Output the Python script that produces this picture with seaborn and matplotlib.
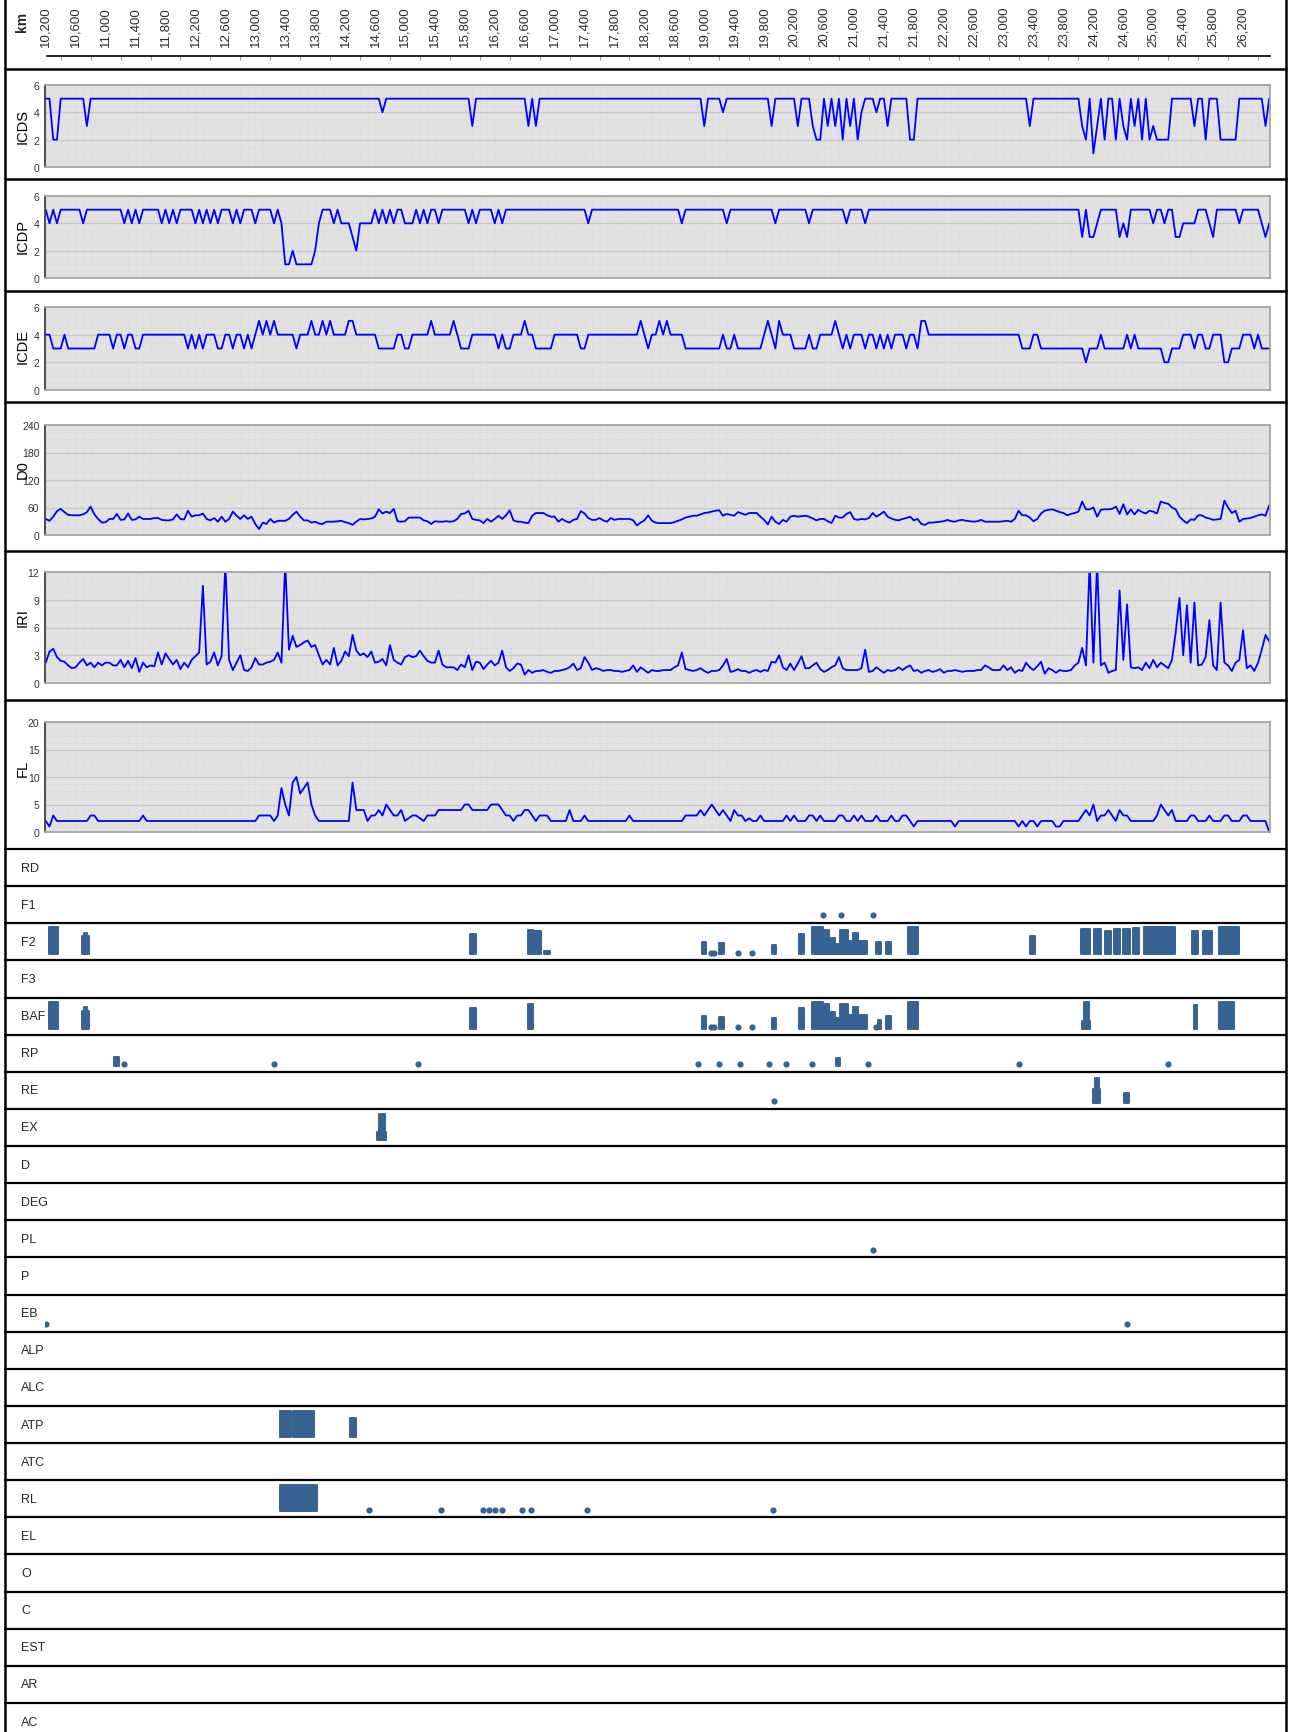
import numpy as np
import pandas as pd
import matplotlib.pyplot as plt
import seaborn as sns
from matplotlib.lines import Line2D
from matplotlib.ticker import MultipleLocator

sns.set_style("white")
plt.rcParams["font.family"] = ["Liberation Sans", "DejaVu Sans"]

# chainage sampling of the survey (every 50 m from km 10,200)
KM_START, KM_STEP = 10200, 50

ICDS = [
    5, 5, 2, 2, 5, 5, 5, 5, 5, 5, 5, 3, 5, 5, 5, 5, 5, 5, 5, 5,
    5, 5, 5, 5, 5, 5, 5, 5, 5, 5, 5, 5, 5, 5, 5, 5, 5, 5, 5, 5,
    5, 5, 5, 5, 5, 5, 5, 5, 5, 5, 5, 5, 5, 5, 5, 5, 5, 5, 5, 5,
    5, 5, 5, 5, 5, 5, 5, 5, 5, 5, 5, 5, 5, 5, 5, 5, 5, 5, 5, 5,
    5, 5, 5, 5, 5, 5, 5, 5, 5, 5, 4, 5, 5, 5, 5, 5, 5, 5, 5, 5,
    5, 5, 5, 5, 5, 5, 5, 5, 5, 5, 5, 5, 5, 5, 3, 5, 5, 5, 5, 5,
    5, 5, 5, 5, 5, 5, 5, 5, 5, 3, 5, 3, 5, 5, 5, 5, 5, 5, 5, 5,
    5, 5, 5, 5, 5, 5, 5, 5, 5, 5, 5, 5, 5, 5, 5, 5, 5, 5, 5, 5,
    5, 5, 5, 5, 5, 5, 5, 5, 5, 5, 5, 5, 5, 5, 5, 5, 3, 5, 5, 5,
    5, 4, 5, 5, 5, 5, 5, 5, 5, 5, 5, 5, 5, 5, 3, 5, 5, 5, 5, 5,
    5, 3, 5, 5, 5, 3, 2, 2, 5, 3, 5, 3, 5, 2, 5, 3, 5, 2, 4, 5,
    5, 5, 4, 5, 5, 3, 5, 5, 5, 5, 5, 2, 2, 5, 5, 5, 5, 5, 5, 5,
    5, 5, 5, 5, 5, 5, 5, 5, 5, 5, 5, 5, 5, 5, 5, 5, 5, 5, 5, 5,
    5, 5, 5, 3, 5, 5, 5, 5, 5, 5, 5, 5, 5, 5, 5, 5, 5, 3, 2, 5,
    1, 3, 5, 2, 5, 5, 2, 5, 3, 2, 5, 3, 5, 2, 5, 2, 3, 2, 2, 2,
    2, 5, 5, 5, 5, 5, 5, 3, 5, 5, 2, 5, 5, 5, 2, 2, 2, 2, 2, 5,
    5, 5, 5, 5, 5, 5, 3, 5,
]

ICDP = [
    5, 4, 5, 4, 5, 5, 5, 5, 5, 5, 4, 5, 5, 5, 5, 5, 5, 5, 5, 5,
    5, 4, 5, 4, 5, 4, 5, 5, 5, 5, 5, 4, 5, 4, 5, 4, 5, 5, 5, 5,
    4, 5, 4, 5, 4, 5, 4, 5, 5, 5, 4, 5, 4, 5, 5, 5, 4, 5, 5, 5,
    5, 4, 5, 4, 1, 1, 2, 1, 1, 1, 1, 1, 2, 4, 5, 5, 5, 4, 5, 4,
    4, 4, 3, 2, 4, 4, 4, 4, 5, 4, 5, 4, 5, 4, 5, 5, 4, 4, 4, 5,
    4, 5, 4, 5, 5, 4, 5, 5, 5, 5, 5, 5, 5, 4, 5, 4, 5, 5, 5, 5,
    4, 5, 4, 5, 5, 5, 5, 5, 5, 5, 5, 5, 5, 5, 5, 5, 5, 5, 5, 5,
    5, 5, 5, 5, 5, 4, 5, 5, 5, 5, 5, 5, 5, 5, 5, 5, 5, 5, 5, 5,
    5, 5, 5, 5, 5, 5, 5, 5, 5, 5, 4, 5, 5, 5, 5, 5, 5, 5, 5, 5,
    5, 5, 4, 5, 5, 5, 5, 5, 5, 5, 5, 5, 5, 5, 5, 4, 5, 5, 5, 5,
    5, 5, 5, 5, 4, 5, 5, 5, 5, 5, 5, 5, 5, 5, 4, 5, 5, 5, 5, 4,
    5, 5, 5, 5, 5, 5, 5, 5, 5, 5, 5, 5, 5, 5, 5, 5, 5, 5, 5, 5,
    5, 5, 5, 5, 5, 5, 5, 5, 5, 5, 5, 5, 5, 5, 5, 5, 5, 5, 5, 5,
    5, 5, 5, 5, 5, 5, 5, 5, 5, 5, 5, 5, 5, 5, 5, 5, 5, 3, 5, 3,
    3, 4, 5, 5, 5, 5, 5, 3, 4, 3, 5, 5, 5, 5, 5, 5, 4, 5, 5, 4,
    5, 5, 3, 3, 4, 4, 4, 4, 5, 5, 5, 4, 3, 5, 5, 5, 5, 5, 5, 4,
    5, 5, 5, 5, 5, 4, 3, 4,
]

ICDE = [
    4, 4, 3, 3, 3, 4, 3, 3, 3, 3, 3, 3, 3, 3, 4, 4, 4, 4, 3, 4,
    4, 3, 4, 4, 3, 3, 4, 4, 4, 4, 4, 4, 4, 4, 4, 4, 4, 4, 3, 4,
    3, 4, 3, 4, 4, 4, 3, 3, 4, 4, 3, 4, 4, 3, 4, 3, 4, 5, 4, 5,
    4, 5, 4, 4, 4, 4, 4, 3, 4, 4, 4, 5, 4, 4, 5, 4, 5, 4, 4, 4,
    4, 5, 5, 4, 4, 4, 4, 4, 4, 3, 3, 3, 3, 3, 4, 4, 3, 3, 4, 4,
    4, 4, 4, 5, 4, 4, 4, 4, 4, 5, 4, 3, 3, 3, 4, 4, 4, 4, 4, 4,
    4, 3, 4, 3, 3, 4, 4, 4, 5, 4, 4, 3, 3, 3, 3, 3, 4, 4, 4, 4,
    4, 4, 4, 3, 3, 4, 4, 4, 4, 4, 4, 4, 4, 4, 4, 4, 4, 4, 4, 5,
    4, 3, 4, 4, 5, 4, 5, 4, 4, 4, 4, 3, 3, 3, 3, 3, 3, 3, 3, 3,
    3, 4, 3, 3, 4, 3, 3, 3, 3, 3, 3, 3, 4, 5, 4, 3, 5, 4, 4, 4,
    3, 3, 3, 3, 4, 3, 3, 4, 4, 4, 4, 5, 4, 3, 4, 3, 4, 4, 4, 3,
    4, 4, 3, 4, 3, 4, 3, 4, 4, 4, 3, 4, 4, 3, 5, 5, 4, 4, 4, 4,
    4, 4, 4, 4, 4, 4, 4, 4, 4, 4, 4, 4, 4, 4, 4, 4, 4, 4, 4, 4,
    4, 3, 3, 3, 4, 4, 3, 3, 3, 3, 3, 3, 3, 3, 3, 3, 3, 3, 2, 3,
    3, 3, 4, 3, 3, 3, 3, 3, 3, 4, 3, 4, 3, 3, 3, 3, 3, 3, 3, 2,
    2, 3, 3, 3, 4, 4, 4, 3, 4, 4, 3, 3, 4, 4, 4, 2, 2, 3, 3, 3,
    4, 4, 4, 3, 4, 3, 3, 3,
]

D0 = [
    35, 31, 40, 52, 57, 50, 44, 43, 43, 43, 45, 50, 62, 45, 35, 27, 28, 35, 35, 46,
    33, 34, 47, 33, 34, 40, 35, 35, 35, 37, 37, 33, 32, 32, 34, 45, 35, 34, 53, 40,
    43, 43, 47, 35, 32, 37, 29, 40, 29, 35, 51, 42, 35, 43, 35, 40, 24, 13, 27, 24,
    35, 27, 31, 31, 31, 35, 44, 51, 40, 32, 32, 27, 29, 25, 24, 29, 29, 29, 30, 31,
    28, 26, 22, 29, 35, 34, 35, 36, 40, 56, 47, 51, 48, 57, 30, 29, 30, 38, 38, 38,
    38, 32, 30, 24, 30, 29, 29, 30, 29, 30, 35, 46, 47, 53, 35, 33, 32, 26, 35, 29,
    35, 42, 35, 43, 54, 32, 29, 29, 27, 26, 42, 48, 48, 48, 43, 40, 40, 29, 35, 30,
    27, 33, 35, 52, 47, 37, 33, 33, 37, 32, 29, 37, 33, 35, 35, 35, 35, 32, 21, 27,
    32, 43, 31, 27, 26, 26, 26, 26, 28, 31, 34, 38, 40, 42, 42, 45, 48, 49, 51, 53,
    54, 42, 46, 44, 42, 50, 47, 44, 48, 48, 48, 40, 33, 23, 40, 29, 24, 33, 29, 40,
    42, 40, 41, 42, 40, 36, 32, 35, 35, 30, 26, 42, 38, 38, 46, 50, 35, 33, 35, 34,
    37, 48, 40, 45, 51, 40, 36, 33, 32, 35, 37, 40, 32, 35, 24, 22, 27, 27, 28, 29,
    30, 33, 30, 29, 32, 33, 31, 30, 29, 30, 33, 29, 29, 29, 29, 29, 30, 31, 29, 35,
    53, 43, 43, 38, 30, 35, 47, 53, 55, 56, 53, 50, 48, 43, 46, 48, 51, 73, 56, 56,
    60, 40, 55, 56, 56, 57, 62, 46, 67, 45, 56, 45, 55, 50, 47, 53, 51, 47, 73, 70,
    68, 60, 56, 40, 32, 26, 34, 33, 43, 43, 38, 36, 33, 34, 35, 75, 60, 48, 53, 29,
    35, 36, 37, 40, 43, 45, 42, 65,
]

IRI = [
    2.2, 3.4, 3.7, 2.8, 2.4, 2.3, 1.9, 1.6, 1.7, 2.2, 2.6, 1.9, 2.2, 1.7, 2.2, 1.9, 2.2, 2.2, 1.9, 1.9,
    2.5, 1.7, 2.4, 1.6, 2.7, 1.2, 2.2, 1.7, 1.9, 1.8, 3.3, 2.0, 3.2, 2.6, 2.0, 2.5, 1.5, 2.2, 1.7, 2.5,
    2.9, 3.3, 10.5, 2.0, 2.3, 3.3, 1.9, 2.9, 13.0, 2.5, 1.4, 2.2, 3.0, 1.4, 1.3, 1.7, 2.7, 2.0, 2.0, 2.2,
    2.3, 2.5, 3.3, 2.2, 13.0, 3.6, 5.1, 3.9, 4.1, 4.4, 4.6, 3.9, 4.1, 3.0, 2.0, 2.5, 2.0, 3.8, 1.9, 2.4,
    3.4, 2.9, 5.2, 3.5, 3.0, 3.2, 2.8, 3.4, 2.2, 2.3, 2.6, 1.9, 4.1, 2.5, 2.2, 2.0, 2.8, 3.0, 2.8, 2.9,
    3.5, 2.9, 2.4, 2.2, 2.2, 3.5, 2.0, 1.7, 1.7, 1.7, 1.4, 2.0, 1.7, 3.0, 1.4, 2.3, 2.2, 1.5, 2.0, 2.4,
    1.9, 2.2, 3.5, 1.7, 1.3, 1.6, 2.1, 2.0, 0.9, 1.4, 1.1, 1.3, 1.3, 1.4, 1.2, 1.1, 1.3, 1.3, 1.4, 1.5,
    1.7, 2.1, 1.4, 1.6, 2.8, 2.2, 1.4, 1.6, 1.5, 1.3, 1.4, 1.4, 1.3, 1.3, 1.2, 1.3, 1.4, 1.9, 1.2, 1.7,
    1.4, 1.1, 1.4, 1.3, 1.3, 1.4, 1.4, 1.4, 1.7, 1.9, 3.3, 1.5, 1.4, 1.3, 1.4, 1.6, 1.3, 1.1, 1.3, 1.3,
    1.4, 1.9, 2.6, 1.2, 1.3, 1.5, 1.3, 1.3, 1.1, 1.3, 1.4, 1.2, 1.4, 1.3, 2.3, 2.2, 3.0, 1.7, 1.4, 2.1,
    1.4, 2.1, 2.9, 1.6, 1.6, 1.9, 2.2, 1.5, 1.2, 1.4, 1.7, 1.9, 2.8, 1.6, 1.4, 1.4, 1.4, 1.4, 1.6, 3.6,
    1.2, 1.3, 1.7, 1.4, 1.1, 1.4, 1.3, 1.4, 1.7, 1.4, 1.7, 1.9, 1.3, 1.4, 1.1, 1.3, 1.4, 1.2, 1.3, 1.5,
    1.1, 1.3, 1.3, 1.4, 1.3, 1.2, 1.3, 1.3, 1.3, 1.4, 1.4, 1.9, 1.7, 1.4, 1.4, 1.4, 1.9, 1.4, 1.7, 1.1,
    1.4, 1.3, 2.2, 1.7, 1.4, 1.8, 2.3, 1.0, 1.6, 1.4, 1.1, 1.4, 1.3, 1.3, 1.4, 1.9, 2.2, 3.8, 1.9, 13.0,
    2.2, 13.0, 1.9, 2.2, 1.1, 1.3, 1.4, 10.0, 2.5, 8.5, 1.7, 1.6, 1.7, 1.4, 2.2, 1.6, 2.5, 1.7, 2.2, 1.9,
    1.6, 2.5, 5.5, 9.2, 3.0, 8.4, 2.2, 8.7, 1.9, 2.0, 2.8, 6.8, 1.9, 1.4, 8.7, 2.2, 1.9, 1.3, 2.2, 2.5,
    5.7, 1.6, 1.9, 1.3, 2.2, 3.6, 5.2, 4.5,
]

FL = [
    2, 1, 3, 2, 2, 2, 2, 2, 2, 2, 2, 2, 3, 3, 2, 2, 2, 2, 2, 2,
    2, 2, 2, 2, 2, 2, 3, 2, 2, 2, 2, 2, 2, 2, 2, 2, 2, 2, 2, 2,
    2, 2, 2, 2, 2, 2, 2, 2, 2, 2, 2, 2, 2, 2, 2, 2, 2, 3, 3, 3,
    3, 2, 3, 8, 5, 3, 9, 10, 7, 8, 9, 5, 3, 2, 2, 2, 2, 2, 2, 2,
    2, 2, 9, 4, 4, 4, 2, 3, 3, 4, 3, 5, 4, 3, 3, 4, 2, 2.5, 3, 3,
    2.5, 2, 3, 3, 3, 4, 4, 4, 4, 4, 4, 4, 5, 5, 4, 4, 4, 4, 4, 5,
    5, 5, 4, 3, 3, 2, 3, 3, 4, 4, 3, 2, 3, 3, 3, 2, 2, 2, 2, 2,
    4, 2, 2, 2, 3, 2, 2, 2, 2, 2, 2, 2, 2, 2, 2, 2, 3, 2, 2, 2,
    2, 2, 2, 2, 2, 2, 2, 2, 2, 2, 2, 3, 3, 3, 3, 4, 3, 4, 5, 4,
    3, 4, 3, 2, 4, 3, 3, 2, 2.5, 2, 2, 3, 2, 2, 2, 2, 2, 2, 3, 2,
    3, 2, 2, 2, 3, 3, 2, 3, 2, 2, 2, 2, 3, 3, 2, 2, 3, 2, 3, 2,
    2, 2, 3, 2, 2, 2, 3, 2, 2, 3, 3, 2, 1, 2, 2, 2, 2, 2, 2, 2,
    2, 2, 2, 1, 2, 2, 2, 2, 2, 2, 2, 2, 2, 2, 2, 2, 2, 2, 2, 2,
    1, 2, 1, 2, 2, 1, 2, 2, 2, 2, 1, 1, 2, 2, 2, 2, 2, 3, 4, 3,
    5, 2, 3, 3, 4, 3, 2, 4, 3, 3, 2, 2, 2, 2, 2, 2, 2, 3, 5, 4,
    3, 4, 2, 2, 2, 2, 3, 3, 2, 2, 2, 3, 2, 2, 2, 3, 3, 2, 2, 2,
    3, 3, 2, 2, 2, 2, 2, 0,
]

KM_TICKS = [10200, 10600, 11000, 11400, 11800, 12200, 12600, 13000, 13400, 13800,
            14200, 14600, 15000, 15400, 15800, 16200, 16600, 17000, 17400, 17800,
            18200, 18600, 19000, 19400, 19800, 20200, 20600, 21000, 21400, 21800,
            22200, 22600, 23000, 23400, 23800, 24200, 24600, 25000, 25400, 25800, 26200]
KM_LABELS = ["10,200", "10,600", "11,000", "11,400", "11,800", "12,200", "12,600",
             "13,000", "13,400", "13,800", "14,200", "14,600", "15,000", "15,400",
             "15,800", "16,200", "16,600", "17,000", "17,400", "17,800", "18,200",
             "18,600", "19,000", "19,400", "19,800", "20,200", "20,600", "21,000",
             "21,400", "21,800", "22,200", "22,600", "23,000", "23,400", "23,800",
             "24,200", "24,600", "25,000", "25,400", "25,800", "26,200"]

# distress rows: (from km, to km, severity) and single spots (km)
F1_DOTS = [20586, 20827, 21255]
F2_BARS = [(10240, 10370, 3.0), (10690, 10775, 2.0), (10715, 10755, 2.4),
           (15870, 15950, 2.3), (16645, 16710, 2.7), (16725, 16815, 2.6),
           (16860, 16940, 0.4), (18970, 19020, 1.4), (19197, 19270, 1.3),
           (19905, 19958, 1.0), (20266, 20333, 2.3), (20433, 20582, 3.0),
           (20582, 20665, 2.7), (20665, 20748, 1.8), (20748, 20820, 1.2),
           (20820, 20915, 2.7), (20915, 20987, 1.5), (20987, 21054, 2.4),
           (21054, 21181, 1.5), (21295, 21362, 1.4), (21428, 21495, 1.4),
           (21722, 21856, 3.0), (23352, 23419, 2.0), (24034, 24154, 2.8),
           (24207, 24301, 2.8), (24355, 24435, 2.6), (24475, 24555, 2.8),
           (24596, 24689, 2.8), (24729, 24809, 2.9), (24876, 25290, 3.0),
           (25517, 25597, 2.6), (25664, 25784, 2.6), (25878, 26145, 3.0)]
F2_DOTS = [19090, 19130, 19450, 19637]
BAF_BARS = [(10240, 10370, 3.0), (10690, 10775, 2.0), (10715, 10755, 2.4),
            (15870, 15950, 2.3), (16645, 16710, 2.7), (18970, 19020, 1.4),
            (19197, 19270, 1.3), (19905, 19958, 1.2), (20266, 20333, 2.3),
            (20433, 20582, 3.0), (20582, 20665, 2.7), (20665, 20748, 1.8),
            (20748, 20820, 1.2), (20820, 20915, 2.7), (20915, 20987, 1.5),
            (20987, 21054, 2.4), (21054, 21181, 1.5), (21320, 21362, 1.0),
            (21428, 21495, 1.4), (21722, 21856, 3.0), (24050, 24160, 0.9),
            (24080, 24140, 3.0), (25540, 25590, 2.6), (25880, 26080, 3.0)]
BAF_DOTS = [19090, 19130, 19450, 19637, 21290]
RP_BARS = [(11112, 11180, 1.0), (20765, 20815, 0.9)]
RP_DOTS = [11246, 13245, 15174, 18917, 19195, 19472, 19861, 20093, 20443,
           21192, 23200, 25198]
RE_BARS = [(24200, 24290, 1.6), (24225, 24275, 2.8), (24604, 24671, 1.1)]
RE_DOTS = [19932]
EX_BARS = [(14627, 14747, 0.9), (14650, 14728, 2.9)]
PL_DOTS = [21259]
EB_DOTS = [10205, 24643]
ATP_BARS = [(13330, 13480, 2.9), (13500, 13785, 2.9), (14266, 14346, 2.1)]
RL_BARS = [(13330, 13825, 2.9)]
RL_DOTS = [14520, 15478, 16043, 16126, 16209, 16293, 16559, 16691, 17439, 19917]

ROWS = ["RD", "F1", "F2", "F3", "BAF", "RP", "RE", "EX", "D", "DEG", "PL", "P",
        "EB", "ALP", "ALC", "ATP", "ATC", "RL", "EL", "O", "C", "EST", "AR", "AC"]
ROW_BARS = {"F2": F2_BARS, "BAF": BAF_BARS, "RP": RP_BARS, "RE": RE_BARS,
            "EX": EX_BARS, "ATP": ATP_BARS, "RL": RL_BARS}
ROW_DOTS = {"F1": F1_DOTS, "F2": F2_DOTS, "BAF": BAF_DOTS, "RP": RP_DOTS,
            "RE": RE_DOTS, "PL": PL_DOTS, "EB": EB_DOTS, "RL": RL_DOTS}

for s in (ICDS, ICDP, ICDE, D0, IRI, FL):
    assert len(s) == 328, len(s)
km = KM_START + KM_STEP * np.arange(len(ICDS))

# ---- layout (pixels) ----
W, H = 1291, 1733
XL, XR = 45, 1270
XMIN, XMAX = 10190, 26560
BLUE = "#0000ff"
MARK = "#376293"

fig = plt.figure(figsize=(W / 100, H / 100), dpi=100)


def box(x0, y0, x1, y1):
    return [x0 / W, 1 - y1 / H, (x1 - x0) / W, (y1 - y0) / H]


def hline(y, lw=1.6):
    fig.add_artist(Line2D([5 / W, 1286 / W], [1 - y / H, 1 - y / H], color="black",
                          lw=lw, transform=fig.transFigure))


# km axis
axk = fig.add_axes(box(XL, 57, XR, 62))
axk.set_xlim(XMIN, XMAX)
axk.set_ylim(0, 1)
axk.patch.set_visible(False)
for s in ["left", "right", "bottom"]:
    axk.spines[s].set_visible(False)
axk.spines["top"].set_color("black")
axk.spines["top"].set_linewidth(1.2)
axk.spines["top"].set_bounds(10215, XMAX)
axk.xaxis.tick_top()
axk.set_xticks(KM_TICKS)
axk.set_xticklabels(KM_LABELS, rotation=90, fontsize=9.5, color="#2b2b2b")
axk.set_xticks([t + 200 for t in KM_TICKS], minor=True)
axk.tick_params(which="major", length=0, pad=7)
axk.tick_params(which="minor", length=3, direction="in", color="#999999", width=0.8)
axk.set_yticks([])
fig.text(22 / W, 1 - 22 / H, "km", rotation=90, fontsize=10, fontweight="bold",
         ha="center", va="center")

# line panels
panels = [
    ("ICDS", ICDS, [0, 2, 4, 6], 86, 168, 127),
    ("ICDP", ICDP, [0, 2, 4, 6], 197, 279, 236),
    ("ICDE", ICDE, [0, 2, 4, 6], 308, 391, 347),
    ("D0", D0, [0, 60, 120, 180, 240], 426, 536, 470),
    ("IRI", IRI, [0, 3, 6, 9, 12], 573, 684, 618),
    ("FL", FL, [0, 5, 10, 15, 20], 723, 833, 768),
]
for name, vals, ticks, y0, y1, yc in panels:
    ax = fig.add_axes(box(XL, y0, XR, y1))
    df = pd.DataFrame({"km": km, "value": vals})
    sns.lineplot(data=df, x="km", y="value", ax=ax, color=BLUE, linewidth=1.3)
    ax.set_xlim(XMIN, XMAX)
    ax.set_ylim(0, ticks[-1])
    ax.set_facecolor("#e2e2e2")
    ax.set_xticks([])
    ax.set_yticks(ticks)
    ax.xaxis.set_minor_locator(MultipleLocator(100))
    ax.yaxis.set_minor_locator(MultipleLocator(ticks[1] / 4))
    ax.grid(which="minor", color="#d3d3d3", lw=0.5, ls=":")
    ax.grid(which="major", axis="y", color="#c8c8c8", lw=0.9)
    ax.set_axisbelow(True)
    ax.tick_params(which="both", length=0, labelsize=7.5, colors="#333333", pad=4)
    for s in ["top", "right", "bottom"]:
        ax.spines[s].set_color("#a6a6a6")
        ax.spines[s].set_linewidth(1.3)
    ax.spines["left"].set_color("#404040")
    ax.spines["left"].set_linewidth(1.3)
    ax.set_xlabel("")
    ax.set_ylabel(name, fontsize=10.5, color="black")
    ax.yaxis.set_label_coords(30 / W, 1 - yc / H, transform=fig.transFigure)

# distress rows
ROW_TOP, ROW_H = 850.0, 37.13
UNIT = 9.0  # pixels per severity unit
for r, name in enumerate(ROWS):
    top = ROW_TOP + r * ROW_H
    ax = fig.add_axes(box(XL, top, XR, top + ROW_H))
    ax.set_xlim(XMIN, XMAX)
    ax.set_ylim(-6 / UNIT, (ROW_H - 6) / UNIT)
    ax.set_axis_off()
    bars = ROW_BARS.get(name, [])
    if bars:
        st = np.array([b[0] for b in bars], float)
        en = np.array([b[1] for b in bars], float)
        lv = np.array([b[2] for b in bars], float)
        rects = ax.bar((st + en) / 2, lv, width=en - st, bottom=0, color=MARK,
                       edgecolor=MARK, linewidth=1.4)
        for p in rects:
            p.set_joinstyle("round")
    dots = ROW_DOTS.get(name, [])
    if dots:
        sns.scatterplot(x=dots, y=[0.2] * len(dots), ax=ax, color=MARK, s=20,
                        linewidth=0, legend=False)
        ax.set_axis_off()
    ax.text((21 - XL) / (XR - XL), 0.5, name, transform=ax.transAxes, fontsize=9.0,
            ha="left", va="center", clip_on=False)

# frame lines
for y in [69.6, 180.2, 291.8, 403.4, 551.5, 700.7]:
    hline(y, 1.8)
for r in range(len(ROWS)):
    hline(ROW_TOP + r * ROW_H, 1.6)
for x in (5, 1286):
    fig.add_artist(Line2D([x / W, x / W], [0, 1], color="black", lw=1.8,
                          transform=fig.transFigure))

fig.savefig("out.png", dpi=100)
